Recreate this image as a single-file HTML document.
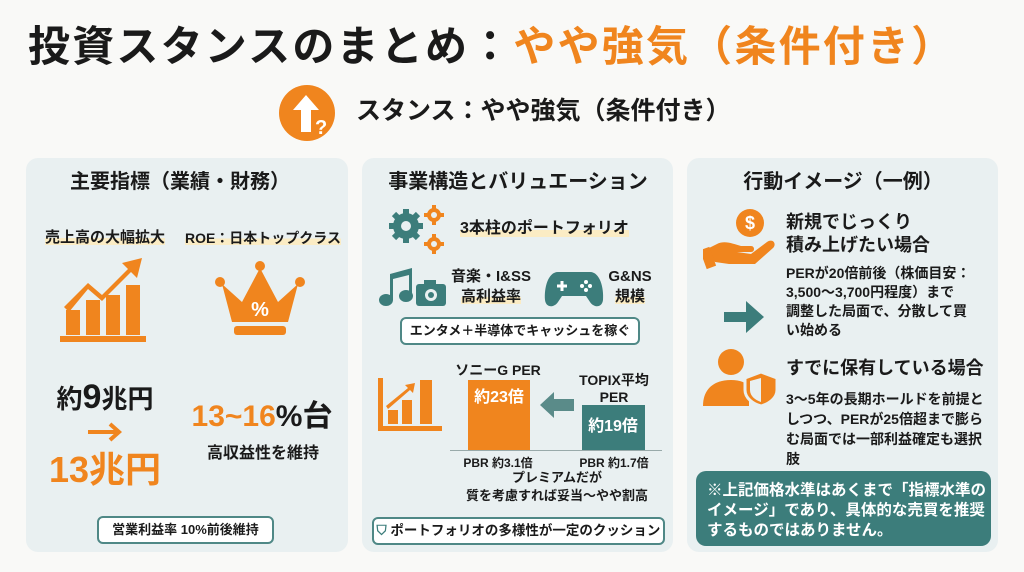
<!DOCTYPE html>
<html><head><meta charset="utf-8">
<style>
*{margin:0;padding:0;box-sizing:border-box}
body{width:1024px;height:572px;background:#f9f9f7;position:relative;overflow:hidden;font-family:"Liberation Sans","Noto Sans CJK JP",sans-serif;font-weight:bold;color:#1a1a1a}
.a{position:absolute;white-space:nowrap;line-height:1}
.c{transform:translateX(-50%)}
.o{color:#f0851e}
.panel{position:absolute;top:158px;height:394px;background:#e9f0f1;border-radius:12px}
.hl{background:linear-gradient(transparent 55%,#fbecc4 55%)}
.pill{position:absolute;background:#fff;border:2px solid #4f8886;border-radius:6px;text-align:center;font-size:13px;line-height:24px}
</style></head><body>
<div class="a" style="left:28px;top:26px;font-size:42px;letter-spacing:2.2px">投資スタンスのまとめ：<span class="o">やや強気（条件付き）</span></div>

<svg class="a" style="left:278px;top:84px" width="58" height="58" viewBox="0 0 58 58">
<circle cx="29" cy="29" r="28" fill="#f0851e"/>
<path d="M23 48V26H15L28 11L41 26H33V48Z" fill="#fff"/>
<text x="37" y="50" font-size="20" font-weight="bold" fill="#fff" font-family="Liberation Sans">?</text>
</svg>
<div class="a" style="left:356px;top:99px;font-size:25px">スタンス：やや強気（条件付き）</div>

<!-- left panel -->
<div class="panel" style="left:26px;width:322px"></div>
<div class="a c" style="left:180px;top:172px;font-size:20px">主要指標（業績・財務）</div>
<div class="a c hl" style="left:105px;top:230px;font-size:15px">売上高の大幅拡大</div>
<div class="a c hl" style="left:263px;top:231px;font-size:14px">ROE：日本トップクラス</div>
<svg class="a" style="left:58px;top:255px" width="92" height="90" viewBox="0 0 92 90">
<g fill="#f0851e"><rect x="8" y="55" width="14" height="25"/><rect x="28" y="45" width="14" height="35"/><rect x="48" y="40" width="14" height="40"/><rect x="68" y="30" width="14" height="50"/><rect x="2" y="81" width="86" height="6"/>
<path d="M6 52L30 28L44 40L70 14L64 8L84 3L79 23L73 17L44 46L30 34L11 57Z"/></g></svg>
<svg class="a" style="left:214px;top:260px" width="92" height="80" viewBox="0 0 92 80">
<g fill="#f0851e"><circle cx="46" cy="6" r="5"/><circle cx="6" cy="22" r="5"/><circle cx="86" cy="22" r="5"/>
<path d="M8 24L28 42L46 8L64 42L84 24L74 62H18Z"/><rect x="20" y="66" width="52" height="9" rx="3"/></g>
<text x="46" y="56" text-anchor="middle" font-size="20" fill="#fff" font-weight="bold" font-family="Liberation Sans">%</text></svg>
<div class="a c" style="left:105px;top:380px;font-size:26px">約<span style="font-size:34px">9</span>兆円</div>
<svg class="a" style="left:88px;top:422px" width="34" height="20" viewBox="0 0 34 20"><path d="M0 10H30M22 2L31 10L22 18" stroke="#f0851e" stroke-width="4" fill="none"/></svg>
<div class="a c o" style="left:105px;top:452px;font-size:36px">13兆円</div>
<div class="a c" style="left:262px;top:402px;font-size:30px"><span class="o">13~16</span>%台</div>
<div class="a c" style="left:263px;top:446px;font-size:16px">高収益性を維持</div>
<div class="pill" style="left:97px;top:516px;width:177px;height:28px">営業利益率 10%前後維持</div>

<!-- middle panel -->
<div class="panel" style="left:362px;width:311px"></div>
<div class="a c" style="left:518px;top:172px;font-size:20px">事業構造とバリュエーション</div>
<svg class="a" style="left:386px;top:204px" width="62" height="54" viewBox="0 0 62 54">
<g fill="#3c7d7b"><circle cx="20" cy="22" r="13"/><g stroke="#3c7d7b" stroke-width="6"><path d="M20 5V39M3 22H37M8 10L32 34M32 10L8 34"/></g></g>
<circle cx="20" cy="22" r="5" fill="#e9f0f1"/>
<g fill="#f0851e"><circle cx="48" cy="11" r="7"/><circle cx="48" cy="40" r="7"/></g>
<g stroke="#f0851e" stroke-width="4"><path d="M48 1V21M38 11H58M48 30V50M38 40H58"/></g>
<circle cx="48" cy="11" r="3" fill="#e9f0f1"/><circle cx="48" cy="40" r="3" fill="#e9f0f1"/></svg>
<div class="a hl" style="left:460px;top:221px;font-size:16px">3本柱のポートフォリオ</div>
<svg class="a" style="left:378px;top:266px" width="70" height="42" viewBox="0 0 70 42">
<g fill="#3c7d7b"><ellipse cx="8" cy="34" rx="7" ry="6"/><ellipse cx="28" cy="30" rx="7" ry="6"/><path d="M12 34V8L34 2V30H31V9L15 13V34Z"/>
<rect x="38" y="18" width="30" height="22" rx="3"/><rect x="46" y="14" width="12" height="6"/></g>
<circle cx="53" cy="29" r="6" fill="#e9f0f1"/><circle cx="53" cy="29" r="3" fill="#3c7d7b"/></svg>
<div class="a c" style="left:491px;top:269px;font-size:15px">音楽・I&amp;SS</div>
<div class="a c hl" style="left:491px;top:289px;font-size:15px">高利益率</div>
<svg class="a" style="left:544px;top:268px" width="60" height="40" viewBox="0 0 60 40">
<path d="M14 4H46C56 4 60 20 59 32C58 40 50 40 46 34L42 28H18L14 34C10 40 2 40 1 32C0 20 4 4 14 4Z" fill="#3c7d7b"/>
<path d="M13 18H23M18 13V23" stroke="#fff" stroke-width="3"/>
<g fill="#fff"><circle cx="42" cy="14" r="2"/><circle cx="42" cy="22" r="2"/><circle cx="38" cy="18" r="2"/><circle cx="46" cy="18" r="2"/></g></svg>
<div class="a c" style="left:630px;top:269px;font-size:15px">G&amp;NS</div>
<div class="a c hl" style="left:630px;top:289px;font-size:15px">規模</div>
<div class="pill" style="left:400px;top:317px;width:240px;height:28px">エンタメ＋半導体でキャッシュを稼ぐ</div>
<svg class="a" style="left:378px;top:376px" width="66" height="60" viewBox="0 0 66 60">
<g fill="#f0851e"><rect x="0" y="2" width="5" height="52"/><rect x="0" y="50" width="64" height="5"/><rect x="10" y="34" width="10" height="14"/><rect x="24" y="24" width="10" height="24"/><rect x="42" y="4" width="12" height="44"/>
<path d="M8 30L30 12L27 9L37 7L35 17L32 14L10 33Z"/></g></svg>
<div class="a c" style="left:498px;top:363px;font-size:14px">ソニーG PER</div>
<div class="a" style="left:468px;top:380px;width:62px;height:70px;background:#f0851e"></div>
<div class="a c" style="left:499px;top:390px;font-size:16px;color:#fff">約23倍</div>
<svg class="a" style="left:540px;top:392px" width="34" height="26" viewBox="0 0 34 26"><path d="M0 13L14 0V7H34V19H14V26Z" fill="#5a8b89"/></svg>
<div class="a c" style="left:614px;top:373px;font-size:14px">TOPIX平均</div>
<div class="a c" style="left:614px;top:390px;font-size:14px">PER</div>
<div class="a" style="left:582px;top:405px;width:63px;height:45px;background:#3c7d7b"></div>
<div class="a c" style="left:613px;top:419px;font-size:16px;color:#fff">約19倍</div>
<div class="a" style="left:450px;top:450px;width:212px;height:1px;background:#9aa"></div>
<div class="a c" style="left:498px;top:457px;font-size:12px">PBR 約3.1倍</div>
<div class="a c" style="left:614px;top:457px;font-size:12px">PBR 約1.7倍</div>
<div class="a c" style="left:557px;top:471px;font-size:13px">プレミアムだが</div>
<div class="a c" style="left:557px;top:489px;font-size:13px">質を考慮すれば妥当〜やや割高</div>
<div class="pill" style="left:372px;top:517px;width:293px;height:28px;font-size:13.5px"><span style="color:#3c7d7b">⛉</span> ポートフォリオの多様性が一定のクッション</div>

<!-- right panel -->
<div class="panel" style="left:687px;width:311px"></div>
<div class="a c" style="left:843px;top:172px;font-size:20px">行動イメージ（一例）</div>
<svg class="a" style="left:703px;top:208px" width="74" height="62" viewBox="0 0 74 62">
<circle cx="47" cy="15" r="14" fill="#f0851e"/><text x="47" y="21" text-anchor="middle" font-size="18" fill="#fff" font-weight="bold" font-family="Liberation Sans">$</text>
<path d="M2 42L14 36C22 32 30 36 38 38H48C52 38 52 44 48 44H34L48 46L64 34C70 30 74 36 70 40L52 56H26L12 54Z" fill="#f0851e"/>
<rect x="0" y="40" width="10" height="20" fill="#f0851e" transform="rotate(-20 5 50)"/></svg>
<div class="a" style="left:786px;top:213px;font-size:18px">新規でじっくり</div>
<div class="a" style="left:786px;top:236px;font-size:18px">積み上げたい場合</div>
<div class="a" style="left:786px;top:264px;font-size:14px;line-height:19px">PERが20倍前後（株価目安：<br>3,500〜3,700円程度）まで<br>調整した局面で、分散して買<br>い始める</div>
<svg class="a" style="left:724px;top:301px" width="40" height="32" viewBox="0 0 40 32"><path d="M0 11H22V0L40 16L22 32V21H0Z" fill="#3c7d7b"/></svg>
<svg class="a" style="left:703px;top:348px" width="74" height="58" viewBox="0 0 74 58">
<circle cx="28" cy="14" r="13" fill="#f0851e"/><path d="M0 58C0 40 12 32 28 32C36 32 42 34 46 38V58Z" fill="#f0851e"/>
<path d="M58 24L74 30V42C74 50 66 56 58 58C50 56 42 50 42 42V30Z" fill="#f0851e" stroke="#e9f0f1" stroke-width="3"/>
<path d="M58 30V54C52 52 47 48 47 42V33Z" fill="#e9f0f1"/></svg>
<div class="a" style="left:786px;top:359px;font-size:18px">すでに保有している場合</div>
<div class="a" style="left:786px;top:389px;font-size:14px;line-height:20px">3〜5年の長期ホールドを前提と<br>しつつ、PERが25倍超まで膨ら<br>む局面では一部利益確定も選択<br>肢</div>
<div class="a" style="left:696px;top:471px;width:295px;height:75px;background:#3c7d7b;border-radius:10px"></div>
<div class="a" style="left:707px;top:481px;font-size:15.5px;line-height:20px;color:#fff">※上記価格水準はあくまで「指標水準の<br>イメージ」であり、具体的な売買を推奨<br>するものではありません。</div>
</body></html>
